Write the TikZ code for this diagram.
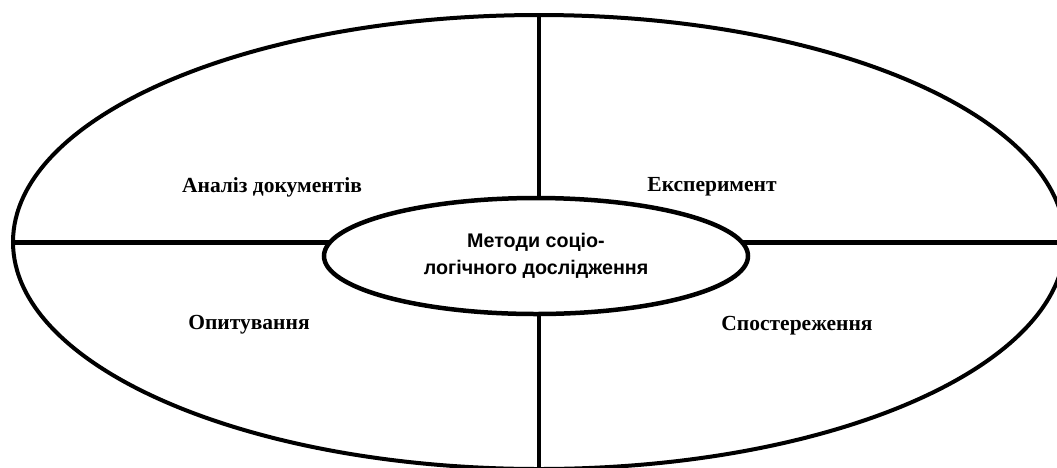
\documentclass[tikz,border=0pt]{standalone}
\usepackage{fontspec}
\setmainfont{Liberation Serif}
\newfontfamily\arialfont{Liberation Sans}
\usetikzlibrary{shapes.geometric}
\begin{document}
\begin{tikzpicture}[x=1pt,y=-1pt,
  outer/.style={draw,ellipse,line width=4pt,inner sep=0pt,minimum width=1052pt,minimum height=454pt},
  inner/.style={draw,ellipse,fill=white,line width=4.5pt,inner sep=0pt,minimum width=424pt,minimum height=116pt,font=\arialfont\bfseries\fontsize{19.7}{27}\selectfont,align=center},
  divider/.style={line width=5pt},
  vdivider/.style={line width=3.2pt},
  label/.style={font=\bfseries\fontsize{21.5}{24}\selectfont}]
\useasboundingbox (0,0) rectangle (1057,467);
\clip (0,0) rectangle (1057,467);
\node[outer] (big) at (539,242) {};
\draw[divider] (big.west) -- (big.east);
\draw[vdivider] (big.north) -- (big.south);
\node[inner] (center) at (536,256) {\raisebox{-2pt}{Методи соціо-}\\\raisebox{-2pt}{логічного дослідження}};
\node[label] (a) at (272,187) {Аналіз документів};
\node[label] (b) at (712,187) {Експеримент};
\node[label] (c) at (249,325) {Опитування};
\node[label] (d) at (797,326) {Спостереження};
\end{tikzpicture}
\end{document}
